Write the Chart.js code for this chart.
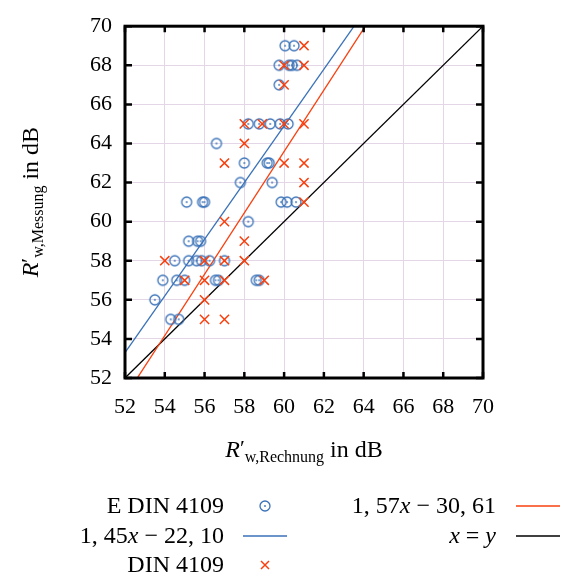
<!DOCTYPE html>
<html>
<head>
<meta charset="utf-8">
<script src="https://cdn.jsdelivr.net/npm/chart.js@4.4.1/dist/chart.umd.min.js"></script>
<style>
  html, body { margin: 0; padding: 0; background: #fff; }
  canvas { display: block; }
</style>
</head>
<body>
<canvas id="c" width="563" height="577"></canvas>
<script>
// axis range (dB)
const xMin = 52, xMax = 70, yMin = 52, yMax = 70, tickStep = 2;

// E DIN 4109 (circles)
const edinX = [54.3, 54.7, 53.5,
  53.9, 54.6, 55.0, 56.55, 56.7, 58.6, 58.75,
  54.5, 55.2, 55.6, 55.85, 56.25, 57.0,
  55.2, 55.65, 55.8,
  58.2,
  55.1, 55.9, 56.0, 59.85, 60.15, 60.6,
  57.8, 59.4,
  58.0, 59.15, 59.25,
  56.6,
  58.2, 58.75, 59.3, 59.8, 60.2,
  59.75,
  59.75, 60.25, 60.4, 60.65,
  60.05, 60.5];
const edinY = [55, 55, 56,
  57, 57, 57, 57, 57, 57, 57,
  58, 58, 58, 58, 58, 58,
  59, 59, 59,
  60,
  61, 61, 61, 61, 61, 61,
  62, 62,
  63, 63, 63,
  64,
  65, 65, 65, 65, 65,
  67,
  68, 68, 68, 68,
  69, 69];

// DIN 4109 (crosses)
const dinX = [56, 57, 56,
  55, 56, 57, 59,
  54, 56, 57, 58,
  58, 57, 61, 61,
  57, 60, 61,
  58,
  58, 58.9, 60, 61,
  60, 60, 61, 61];
const dinY = [55, 55, 56,
  57, 57, 57, 57,
  58, 58, 58, 58,
  59, 60, 61, 62,
  63, 63, 63,
  64,
  65, 65, 65, 65,
  67, 68, 68, 69];

// fitted lines from the legend: y = slope * x + intercept
const fitSlope = [1.45, 1.57, 1];
const fitIntercept = [-22.10, -30.61, 0];

const BLUE = '#3a72b8';
const RED = '#f8400f';
const GRID = '#e4d6e6';
const SERIF = '"Liberation Serif", "DejaVu Serif", serif';

function ringDot(color) {
  const c = document.createElement('canvas');
  c.width = c.height = 14;
  const g = c.getContext('2d');
  g.strokeStyle = color;
  g.lineWidth = 1.3;
  g.beginPath(); g.arc(7, 7, 5, 0, 2 * Math.PI); g.stroke();
  g.fillStyle = color;
  g.beginPath(); g.arc(7, 7, 0.9, 0, 2 * Math.PI); g.fill();
  return c;
}
const ringImg = ringDot(BLUE);

const pts = (xs, ys) => xs.map((x, i) => ({ x, y: ys[i] }));
const fitLine = (k) => [xMin, xMax].map((x) => ({ x, y: fitSlope[k] * x + fitIntercept[k] }));

// draw a row of text pieces with different fonts / offsets
function drawRuns(ctx, runs, x, y, align) {
  let w = 0;
  runs.forEach((r) => { ctx.font = r.font; w += ctx.measureText(r.t).width; });
  let cx = align === 'right' ? x - w : align === 'center' ? x - w / 2 : x;
  ctx.textAlign = 'left';
  ctx.textBaseline = 'alphabetic';
  runs.forEach((r) => {
    ctx.font = r.font;
    ctx.fillText(r.t, cx, y + (r.dy || 0));
    cx += ctx.measureText(r.t).width;
  });
}

const big = '24px ' + SERIF;
const bigIt = 'italic 24px ' + SERIF;
const sub = '16px ' + SERIF;

function titleRuns(word) {
  return [
    { t: 'R', font: bigIt },
    { t: '′', font: '22px ' + SERIF, dy: -2 },
    { t: 'w,' + word, font: sub, dy: 5 },
    { t: ' in dB', font: big },
  ];
}

const frame = {
  id: 'frame',
  afterDraw(chart) {
    const { ctx, chartArea: a, scales: { x, y } } = chart;
    ctx.save();
    ctx.strokeStyle = '#000';
    ctx.lineWidth = 2.5;
    ctx.beginPath();
    for (let v = xMin; v <= xMax; v += tickStep) {
      const px = x.getPixelForValue(v);
      ctx.moveTo(px, a.bottom); ctx.lineTo(px, a.bottom - 6);
      ctx.moveTo(px, a.top); ctx.lineTo(px, a.top + 6);
    }
    for (let v = yMin; v <= yMax; v += tickStep) {
      const py = y.getPixelForValue(v);
      ctx.moveTo(a.left, py); ctx.lineTo(a.left + 7, py);
      ctx.moveTo(a.right, py); ctx.lineTo(a.right - 7, py);
    }
    ctx.stroke();
    ctx.lineWidth = 3;
    ctx.strokeRect(a.left, a.top, a.right - a.left, a.bottom - a.top);

    // axis titles
    ctx.fillStyle = '#000';
    drawRuns(ctx, titleRuns('Rechnung'), (a.left + a.right) / 2, 457, 'center');
    ctx.save();
    ctx.translate(38, (a.top + a.bottom) / 2);
    ctx.rotate(-Math.PI / 2);
    drawRuns(ctx, titleRuns('Messung'), 0, 0, 'center');
    ctx.restore();

    // legend
    const rows = [513, 543, 572];
    drawRuns(ctx, [{ t: 'E DIN 4109', font: big }], 224, rows[0], 'right');
    ctx.drawImage(ringImg, 265 - 7, rows[0] - 7 - 7);
    drawRuns(ctx, [{ t: '1, 45', font: big }, { t: 'x', font: bigIt }, { t: ' − 22, 10', font: big }], 224, rows[1], 'right');
    ctx.lineWidth = 1.3;
    ctx.strokeStyle = BLUE;
    ctx.beginPath(); ctx.moveTo(243, rows[1] - 7); ctx.lineTo(287, rows[1] - 7); ctx.stroke();
    drawRuns(ctx, [{ t: 'DIN 4109', font: big }], 224, rows[2], 'right');
    ctx.strokeStyle = RED;
    ctx.lineWidth = 1.5;
    ctx.beginPath();
    ctx.moveTo(261, rows[2] - 11); ctx.lineTo(269, rows[2] - 3);
    ctx.moveTo(269, rows[2] - 11); ctx.lineTo(261, rows[2] - 3);
    ctx.stroke();

    drawRuns(ctx, [{ t: '1, 57', font: big }, { t: 'x', font: bigIt }, { t: ' − 30, 61', font: big }], 496, rows[0], 'right');
    ctx.lineWidth = 1.3;
    ctx.strokeStyle = RED;
    ctx.beginPath(); ctx.moveTo(516, rows[0] - 7); ctx.lineTo(560, rows[0] - 7); ctx.stroke();
    drawRuns(ctx, [{ t: 'x', font: bigIt }, { t: ' = ', font: big }, { t: 'y', font: bigIt }], 496, rows[1], 'right');
    ctx.strokeStyle = '#000';
    ctx.beginPath(); ctx.moveTo(516, rows[1] - 7); ctx.lineTo(560, rows[1] - 7); ctx.stroke();
    ctx.restore();
  },
};

new Chart(document.getElementById('c'), {
  type: 'scatter',
  data: {
    datasets: [
      {
        label: 'E DIN 4109',
        data: pts(edinX, edinY),
        pointStyle: ringImg,
        pointRadius: 5,
        order: 2,
      },
      {
        label: 'DIN 4109',
        data: pts(dinX, dinY),
        pointStyle: 'crossRot',
        pointRadius: 6.5,
        pointBorderWidth: 1.5,
        borderColor: RED,
        backgroundColor: RED,
        order: 1,
      },
      {
        type: 'line',
        label: '1,45x − 22,10',
        data: fitLine(0),
        borderColor: BLUE,
        borderWidth: 1.3,
        pointRadius: 0,
        order: 3,
      },
      {
        type: 'line',
        label: '1,57x − 30,61',
        data: fitLine(1),
        borderColor: RED,
        borderWidth: 1.3,
        pointRadius: 0,
        order: 4,
      },
      {
        type: 'line',
        label: 'x = y',
        data: fitLine(2),
        borderColor: '#000',
        borderWidth: 1.3,
        pointRadius: 0,
        order: 5,
      },
    ],
  },
  options: {
    responsive: false,
    animation: false,
    events: [],
    devicePixelRatio: 1,
    layout: { padding: { left: 0, top: 19, right: 80, bottom: 0 } },
    plugins: { legend: { display: false }, tooltip: { enabled: false } },
    scales: {
      x: {
        type: 'linear',
        min: xMin,
        max: xMax,
        afterFit: (s) => { s.height = 199; },
        border: { display: false },
        grid: { color: GRID, lineWidth: 1, drawTicks: false },
        ticks: { stepSize: tickStep, padding: 16, color: '#000', font: { family: SERIF, size: 22 } },
      },
      y: {
        type: 'linear',
        min: yMin,
        max: yMax,
        afterFit: (s) => { s.width = 125; },
        border: { display: false },
        grid: { color: GRID, lineWidth: 1, drawTicks: false },
        ticks: { stepSize: tickStep, padding: 13, color: '#000', font: { family: SERIF, size: 22 } },
      },
    },
  },
  plugins: [frame],
});
</script>
</body>
</html>
